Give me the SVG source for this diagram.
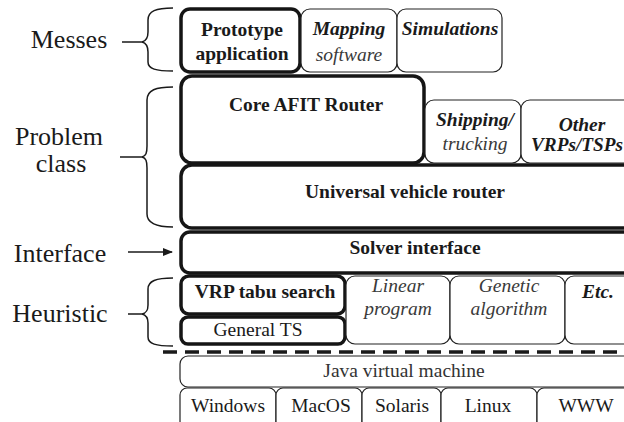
<svg xmlns="http://www.w3.org/2000/svg" width="624" height="422" viewBox="0 0 624 422" font-family="Liberation Serif, Times New Roman, serif">
  <style>
    text { fill: #1a1a1a; text-anchor: middle; }
    .lbl { font-size: 26px; }
    .b { font-size: 19.5px; font-weight: bold; }
    .bi { font-size: 19.5px; font-weight: bold; font-style: italic; }
    .i { font-size: 19.5px; font-style: italic; fill: #3a3a3a; }
    .r { font-size: 19.5px; }
    .g { fill: #333; }
    .thick { fill: #fff; stroke: #151515; stroke-width: 3.5; }
    .thin { fill: #fff; stroke: #222; stroke-width: 1.2; }
    .brace { fill: none; stroke: #1a1a1a; stroke-width: 1.5; }
  </style>
  <defs>
    <marker id="arrow" viewBox="0 0 10 10" refX="9" refY="5" markerWidth="10" markerHeight="10" markerUnits="userSpaceOnUse" orient="auto">
      <path d="M0,1 L10,5 L0,9 Z" fill="#1a1a1a"/>
    </marker>
  </defs>
  <rect width="624" height="422" fill="#fff"/>

  <!-- layer labels -->
  <g id="labels">
    <text class="lbl" x="69" y="48">Messes</text>
    <text class="lbl" x="59" y="145">Problem</text>
    <text class="lbl" x="61" y="172">class</text>
    <text class="lbl" x="60" y="262">Interface</text>
    <text class="lbl" x="60" y="322">Heuristic</text>
  </g>

  <!-- braces and arrow tying labels to layers -->
  <g id="connectors">
    <path class="brace" d="M173,8 C156,8 148,11 148,20 L148,32 C148,38 146,41 142,42 L122,42 M142,42 C146,43 148,46 148,52 L148,62 C148,69 156,71 173,71"/>
    <path class="brace" d="M173,87 C156,87 147,90 147,100 L147,146 C147,153 146,156 142,157 L120,157 M142,157 C146,158 147,161 147,168 L147,214 C147,223 156,227 173,227"/>
    <path class="brace" d="M173,278 C156,278 148,281 148,289 L148,305 C148,311 146,313 142,314 L128,314 M142,314 C146,315 148,318 148,323 L148,337 C148,344 156,346 173,346"/>
    <line x1="128" y1="252" x2="172" y2="252" stroke="#1a1a1a" stroke-width="1.5" marker-end="url(#arrow)"/>
    <line x1="163" y1="352" x2="630" y2="352" stroke="#1a1a1a" stroke-width="3.5" stroke-dasharray="14 8"/>
  </g>

  <!-- Messes layer -->
  <g id="prototype">
    <rect class="thick" x="181" y="9" width="119" height="63" rx="9"/>
    <text class="b" x="242" y="36">Prototype</text>
    <text class="b" x="242" y="60">application</text>
  </g>
  <g id="mapping">
    <rect class="thin" x="301" y="9" width="96" height="63" rx="9"/>
    <text class="bi" x="349" y="35">Mapping</text>
    <text class="i" x="349" y="61">software</text>
  </g>
  <g id="simulations">
    <rect class="thin" x="397" y="9" width="105" height="63" rx="9"/>
    <text class="bi" x="450" y="35">Simulations</text>
  </g>

  <!-- Problem class layer -->
  <g id="core-router">
    <rect class="thick" x="181" y="76" width="243" height="87" rx="11"/>
    <text class="b" x="306" y="111">Core AFIT Router</text>
  </g>
  <g id="shipping">
    <rect class="thin" x="425" y="100" width="96" height="63" rx="9"/>
    <text class="bi" x="475" y="126">Shipping/</text>
    <text class="i" x="475" y="150">trucking</text>
  </g>
  <g id="other-vrps">
    <rect class="thin" x="521" y="100" width="120" height="63" rx="9"/>
    <text class="bi" x="582" y="131">Other</text>
    <text class="bi" x="531" y="151" style="text-anchor:start" textLength="92" lengthAdjust="spacingAndGlyphs">VRPs/TSPs</text>
  </g>
  <g id="universal-router">
    <rect class="thick" x="181" y="165" width="470" height="63" rx="11"/>
    <text class="b" x="405" y="198">Universal vehicle router</text>
  </g>

  <!-- Interface layer -->
  <g id="solver-interface">
    <rect class="thick" x="181" y="232" width="470" height="41" rx="9"/>
    <text class="b" x="415" y="254">Solver interface</text>
  </g>

  <!-- Heuristic layer -->
  <g id="vrp-tabu">
    <rect class="thick" x="181" y="276" width="164" height="38" rx="8"/>
    <text class="b" x="265" y="298">VRP tabu search</text>
  </g>
  <g id="general-ts">
    <rect class="thick" x="181" y="317" width="164" height="27" rx="7"/>
    <text class="r" x="258" y="336">General TS</text>
  </g>
  <g id="linear-program">
    <rect class="thin" x="346" y="276" width="104" height="68" rx="9"/>
    <text class="i" x="398" y="292">Linear</text>
    <text class="i" x="398" y="315">program</text>
  </g>
  <g id="genetic">
    <rect class="thin" x="450" y="276" width="115" height="68" rx="9"/>
    <text class="i" x="509" y="292">Genetic</text>
    <text class="i" x="509" y="315">algorithm</text>
  </g>
  <g id="etc">
    <rect class="thin" x="565" y="276" width="80" height="68" rx="9"/>
    <text class="bi" x="598" y="298">Etc.</text>
  </g>

  <!-- Platform layer -->
  <g id="jvm">
    <rect class="thin" x="180" y="356" width="470" height="31" rx="8"/>
    <text class="r g" x="404" y="377">Java virtual machine</text>
  </g>
  <g id="windows">
    <rect class="thin" x="180" y="388" width="96" height="40" rx="7"/>
    <text class="r" x="228" y="412">Windows</text>
  </g>
  <g id="macos">
    <rect class="thin" x="276" y="388" width="86" height="40" rx="7"/>
    <text class="r" x="321" y="412">MacOS</text>
  </g>
  <g id="solaris">
    <rect class="thin" x="362" y="388" width="79" height="40" rx="7"/>
    <text class="r" x="402" y="412">Solaris</text>
  </g>
  <g id="linux">
    <rect class="thin" x="441" y="388" width="96" height="40" rx="7"/>
    <text class="r" x="488" y="412">Linux</text>
  </g>
  <g id="www">
    <rect class="thin" x="537" y="388" width="110" height="40" rx="7"/>
    <text class="r" x="586" y="412">WWW</text>
  </g>
</svg>
